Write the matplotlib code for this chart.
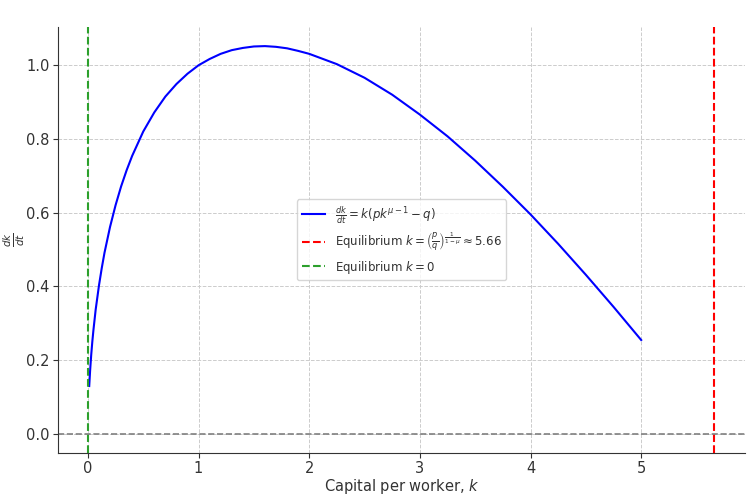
import numpy as np
import matplotlib
matplotlib.use("Agg")
import matplotlib.pyplot as plt

# values
k_vals = [0.012, 0.02, 0.03, 0.04, 0.05, 0.07, 0.1, 0.125, 0.15, 0.2, 0.25, 0.3, 0.35, 0.4,
          0.5, 0.6, 0.7, 0.8, 0.9, 1.0, 1.1, 1.2, 1.3, 1.4, 1.5, 1.6, 1.7, 1.8, 1.9, 2.0,
          2.25, 2.5, 2.75, 3.0, 3.25, 3.5, 3.75, 4.0, 4.25, 4.5, 4.75, 5.0]
dkdt_vals = [0.129, 0.171, 0.214, 0.250, 0.281, 0.336, 0.402, 0.449, 0.491, 0.561, 0.620,
             0.671, 0.715, 0.754, 0.820, 0.872, 0.915, 0.949, 0.977, 1.000, 1.017, 1.031,
             1.041, 1.047, 1.051, 1.052, 1.050, 1.046, 1.039, 1.031, 1.003, 0.966, 0.920,
             0.866, 0.807, 0.741, 0.670, 0.595, 0.515, 0.431, 0.344, 0.254]
k_eq = 5.66
k_zero = 0.0

txt = "#333333"
plt.rcParams["text.color"] = txt
plt.rcParams["axes.labelcolor"] = txt
plt.rcParams["xtick.color"] = txt
plt.rcParams["ytick.color"] = txt

fig = plt.figure(figsize=(7.53, 4.95), dpi=100)
ax = fig.add_axes([0.077, 0.085, 0.913, 0.861])

ax.plot(k_vals, dkdt_vals, color="blue", lw=1.5,
        label=r"$\frac{dk}{dt} = k(pk^{\mu - 1} - q)$")
ax.axvline(k_eq, color="red", ls="--", lw=1.5,
           label=r"Equilibrium $k = \left(\frac{p}{q}\right)^{\frac{1}{1-\mu}} \approx 5.66$")
ax.axvline(k_zero, color="#2ca02c", ls="--", lw=1.5, label=r"Equilibrium $k = 0$")
ax.axhline(0, color="gray", ls="--", lw=1.2)

ax.set_xlabel(r"Capital per worker, $k$", fontsize=10.5)
ax.set_ylabel(r"$\frac{dk}{dt}$", fontsize=10.5)
ax.xaxis.set_label_coords(0.5, -0.056)
ax.yaxis.set_label_coords(-0.045, 0.5)
ax.grid(True, ls="--", color="#cccccc", lw=0.7)
ax.tick_params(labelsize=10.5, length=3.5, pad=2.5)
for s in ["top", "right"]:
    ax.spines[s].set_visible(False)
for s in ["left", "bottom"]:
    ax.spines[s].set_color("#333333")

ax.legend(loc="center", fontsize=8.5, handlelength=2.0, labelspacing=0.45,
          borderpad=0.4)

fig.savefig("out.png", dpi=100)
